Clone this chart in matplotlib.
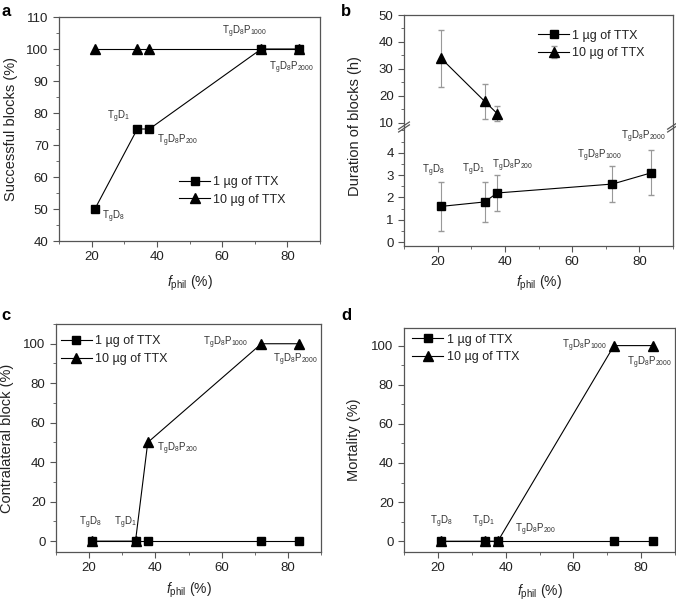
import matplotlib
matplotlib.use("Agg")
import matplotlib.pyplot as plt
from matplotlib.ticker import MultipleLocator

plt.rcParams["font.family"] = ["Liberation Sans", "DejaVu Sans"]
plt.rcParams["mathtext.fontset"] = "custom"
plt.rcParams["mathtext.rm"] = "Liberation Sans"
plt.rcParams["mathtext.it"] = "Liberation Sans:italic"
plt.rcParams["mathtext.default"] = "regular"

# data
f_phil = [21, 34, 37.7, 72, 83.5]
labels = ["T$_g$D$_8$", "T$_g$D$_1$", "T$_g$D$_8$P$_{200}$",
          "T$_g$D$_8$P$_{1000}$", "T$_g$D$_8$P$_{2000}$"]
series_names = ["1 \u00b5g of TTX", "10 \u00b5g of TTX"]

success_1ug = [50, 75, 75, 100, 100]
success_10ug = [100, 100, 100, 100, 100]

dur_1ug = [1.6, 1.8, 2.2, 2.6, 3.1]
dur_1ug_err = [1.1, 0.9, 0.8, 0.8, 1.0]
dur_10ug_x = [21, 34, 37.7]
dur_10ug = [34, 18, 13.5]
dur_10ug_err = [10.5, 6.5, 2.8]
dur_low_ticks = [0, 1, 2, 3, 4]
dur_high_ticks = [10, 20, 30, 40, 50]

contra_1ug = [0, 0, 0, 0, 0]
contra_10ug = [0, 0, 50, 100, 100]

mort_1ug = [0, 0, 0, 0, 0]
mort_10ug = [0, 0, 0, 100, 100]

SPINE = "#555555"
TXT = "#222222"
ANN = "#333333"
W, H = 676, 601


def rect(l, r, t, b):
    return [l / W, 1 - b / H, (r - l) / W, (b - t) / H]


def style(ax, xticks=True):
    for s in ax.spines.values():
        s.set_color(SPINE)
        s.set_linewidth(0.9)
    ax.tick_params(which="both", direction="out", colors=SPINE, labelcolor=TXT,
                   labelsize=9.5, top=False, right=False)
    ax.tick_params(which="major", length=4)
    ax.tick_params(which="minor", length=2)
    ax.set_xlim(10, 90)
    ax.xaxis.set_major_locator(MultipleLocator(20))
    ax.xaxis.set_minor_locator(MultipleLocator(10))
    if not xticks:
        ax.tick_params(axis="x", which="both", bottom=False, labelbottom=False)


def pair(ax, y1, y2, sq_top=True):
    zs, zt = (4, 3) if sq_top else (3, 4)
    ax.plot(f_phil, y2, color="black", lw=0.8, marker="^", ms=7, zorder=zt,
            label=series_names[1])
    ax.plot(f_phil, y1, color="black", lw=0.8, marker="s", ms=6, zorder=zs,
            label=series_names[0])


def legend(ax, x, y):
    h, l = ax.get_legend_handles_labels()
    order = [l.index(series_names[0]), l.index(series_names[1])]
    ax.legend([h[i] for i in order], [l[i] for i in order], loc="upper left",
              bbox_to_anchor=(x, y), frameon=False, fontsize=9, borderpad=0,
              borderaxespad=0, handlelength=2.5, handletextpad=0.25,
              labelspacing=0.45, labelcolor=TXT)


def annotate(ax, xs, ys, offsets, has):
    for lab, x, y, off, ha in zip(labels, xs, ys, offsets, has):
        ax.annotate(lab, (x, y), xytext=off, textcoords="offset pixels",
                    ha=ha, va="center", fontsize=7, color=ANN)


def xlabel(ax, y):
    ax.set_xlabel(r"$\mathit{f}_{phil}$ (%)", fontsize=10, color=TXT)
    ax.xaxis.set_label_coords(0.5, y)


def ylabel(ax, text, x):
    ax.set_ylabel(text, fontsize=10.5, color=TXT)
    ax.yaxis.set_label_coords(x, 0.5)


fig = plt.figure(figsize=(6.76, 6.01), dpi=100)

# panel a
ax = fig.add_axes(rect(59, 320, 17, 241))
style(ax)
pair(ax, success_1ug, success_10ug, sq_top=True)
ax.set_ylim(40, 110)
ax.yaxis.set_major_locator(MultipleLocator(10))
ax.yaxis.set_minor_locator(MultipleLocator(5))
ylabel(ax, "Successful blocks (%)", -0.158)
xlabel(ax, -0.147)
legend(ax, 0.46, 0.29)
annotate(ax, f_phil, success_1ug,
         [(7, -8), (-7, 12), (8, -12), (-17, 17), (-7, -19)],
         ["left", "right", "left", "center", "center"])

# panel b (broken axis)
axu = fig.add_axes(rect(404, 673, 15, 127))
axl = fig.add_axes(rect(404, 673, 127, 246))
style(axu, xticks=False)
style(axl)
axu.spines["bottom"].set_visible(False)
axl.spines["top"].set_visible(False)
axu.errorbar(dur_10ug_x, dur_10ug, yerr=dur_10ug_err, color="black", lw=0.8,
             marker="^", ms=7, ecolor="#999999", elinewidth=0.8, capsize=2.5,
             label=series_names[1])
axu.plot([], [], color="black", lw=0.8, marker="s", ms=6, label=series_names[0])
axu.set_ylim(8.5, 50)
axu.set_yticks(dur_high_ticks)
axu.yaxis.set_minor_locator(MultipleLocator(5))
axl.errorbar(f_phil, dur_1ug, yerr=dur_1ug_err, color="black", lw=0.8,
             marker="s", ms=6, ecolor="#999999", elinewidth=0.8, capsize=2.5)
axl.set_ylim(-0.17, 5.15)
axl.set_yticks(dur_low_ticks)
axl.yaxis.set_minor_locator(MultipleLocator(0.5))
for xb in (0, 1):
    for dy in (-0.012, 0.012):
        axl.plot([xb - 0.02, xb + 0.02], [1 - 0.03 + dy, 1 + 0.03 + dy],
                 transform=axl.transAxes, color=SPINE, lw=0.9, clip_on=False,
                 zorder=6)
legend(axu, 0.498, 0.87)
annotate(axl, f_phil, dur_1ug,
         [(-8, 36), (-11, 32), (15, 27), (-13, 28), (-8, 36)],
         ["center"] * 5)
fig.text(354.7 / W, 1 - 126 / H, "Duration of blocks (h)", rotation=90,
         ha="center", va="center", fontsize=10.5, color=TXT)
xlabel(axl, -0.235)

# panel c
ax = fig.add_axes(rect(56, 321, 324, 552))
style(ax)
pair(ax, contra_1ug, contra_10ug, sq_top=False)
ax.set_ylim(-5.5, 110)
ax.yaxis.set_major_locator(MultipleLocator(20))
ax.yaxis.set_minor_locator(MultipleLocator(10))
ylabel(ax, "Contralateral block (%)", -0.16)
xlabel(ax, -0.125)
legend(ax, 0.017, 0.95)
annotate(ax, f_phil, contra_10ug,
         [(-2, 18), (-10, 18), (9, -6), (-13, 1), (-4, -16)],
         ["center", "center", "left", "right", "center"])

# panel d
ax = fig.add_axes(rect(404, 675, 328, 552))
style(ax)
pair(ax, mort_1ug, mort_10ug, sq_top=False)
ax.set_ylim(-5.5, 109)
ax.yaxis.set_major_locator(MultipleLocator(20))
ax.yaxis.set_minor_locator(MultipleLocator(10))
ylabel(ax, "Mortality (%)", -0.16)
xlabel(ax, -0.138)
legend(ax, 0.03, 0.975)
annotate(ax, f_phil, mort_10ug,
         [(0, 19), (-2, 19), (17, 11), (-7, 0), (-4, -17)],
         ["center", "center", "left", "right", "center"])

for letter, x, y in [("a", 6, 12), ("b", 346, 12), ("c", 6, 315), ("d", 346, 315)]:
    fig.text(x / W, 1 - y / H, letter, fontsize=12, fontweight="bold",
             ha="center", va="center", color="black")

fig.savefig("out.png", dpi=100)
